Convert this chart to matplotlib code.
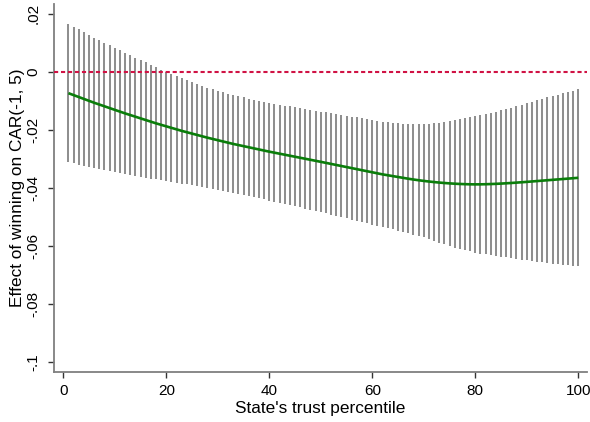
import matplotlib
matplotlib.use("Agg")
import matplotlib.pyplot as plt

plt.rcParams["font.family"] = ["Liberation Sans", "DejaVu Sans"]

# Trust percentile grid and estimated effect with 95% confidence limits
percentile = list(range(1, 101))

effect = [
    -0.00740, -0.00806, -0.00872, -0.00938, -0.01004, -0.01070, -0.01131, -0.01192, -0.01253, -0.01314,
    -0.01375, -0.01436, -0.01493, -0.01550, -0.01607, -0.01664, -0.01721, -0.01778, -0.01830, -0.01882,
    -0.01934, -0.01986, -0.02038, -0.02085, -0.02132, -0.02179, -0.02226, -0.02273, -0.02316, -0.02359,
    -0.02402, -0.02445, -0.02488, -0.02526, -0.02564, -0.02602, -0.02640, -0.02678, -0.02716, -0.02754,
    -0.02789, -0.02824, -0.02859, -0.02894, -0.02929, -0.02964, -0.02999, -0.03034, -0.03069, -0.03104,
    -0.03140, -0.03176, -0.03212, -0.03248, -0.03284, -0.03320, -0.03356, -0.03392, -0.03428, -0.03464,
    -0.03500, -0.03536, -0.03566, -0.03596, -0.03626, -0.03656, -0.03686, -0.03713, -0.03738, -0.03761,
    -0.03782, -0.03801, -0.03818, -0.03833, -0.03846, -0.03857, -0.03866, -0.03873, -0.03878, -0.03880,
    -0.03879, -0.03875, -0.03869, -0.03862, -0.03853, -0.03843, -0.03832, -0.03820, -0.03807, -0.03794,
    -0.03780, -0.03766, -0.03752, -0.03738, -0.03724, -0.03710, -0.03696, -0.03682, -0.03668, -0.03654,
]

ci_upper = [
    0.01640, 0.01547, 0.01454, 0.01361, 0.01268, 0.01175, 0.01082, 0.00995, 0.00908, 0.00821,
    0.00734, 0.00647, 0.00560, 0.00479, 0.00398, 0.00317, 0.00236, 0.00155, 0.00074, -0.00003,
    -0.00078, -0.00151, -0.00223, -0.00293, -0.00362, -0.00429, -0.00494, -0.00554, -0.00609, -0.00660,
    -0.00709, -0.00756, -0.00801, -0.00844, -0.00885, -0.00924, -0.00962, -0.00999, -0.01035, -0.01070,
    -0.01103, -0.01135, -0.01166, -0.01196, -0.01226, -0.01256, -0.01285, -0.01314, -0.01343, -0.01372,
    -0.01401, -0.01430, -0.01459, -0.01488, -0.01517, -0.01546, -0.01575, -0.01604, -0.01633, -0.01662,
    -0.01690, -0.01717, -0.01742, -0.01764, -0.01782, -0.01796, -0.01806, -0.01812, -0.01815, -0.01816,
    -0.01804, -0.01782, -0.01752, -0.01722, -0.01691, -0.01660, -0.01629, -0.01598, -0.01566, -0.01532,
    -0.01496, -0.01458, -0.01418, -0.01376, -0.01333, -0.01289, -0.01243, -0.01195, -0.01145, -0.01094,
    -0.01042, -0.00990, -0.00938, -0.00887, -0.00837, -0.00788, -0.00741, -0.00696, -0.00652, -0.00609,
]

ci_lower = [
    -0.03120, -0.03159, -0.03198, -0.03237, -0.03276, -0.03315, -0.03344, -0.03379, -0.03414, -0.03449,
    -0.03484, -0.03519, -0.03546, -0.03579, -0.03612, -0.03645, -0.03678, -0.03711, -0.03734, -0.03761,
    -0.03790, -0.03821, -0.03853, -0.03877, -0.03902, -0.03929, -0.03958, -0.03992, -0.04023, -0.04058,
    -0.04095, -0.04134, -0.04175, -0.04208, -0.04243, -0.04280, -0.04318, -0.04357, -0.04397, -0.04438,
    -0.04475, -0.04513, -0.04552, -0.04592, -0.04632, -0.04672, -0.04713, -0.04754, -0.04795, -0.04836,
    -0.04879, -0.04922, -0.04965, -0.05008, -0.05051, -0.05094, -0.05137, -0.05180, -0.05223, -0.05266,
    -0.05310, -0.05355, -0.05390, -0.05428, -0.05470, -0.05516, -0.05566, -0.05614, -0.05661, -0.05706,
    -0.05760, -0.05820, -0.05884, -0.05944, -0.06001, -0.06054, -0.06103, -0.06148, -0.06190, -0.06228,
    -0.06262, -0.06292, -0.06320, -0.06348, -0.06373, -0.06397, -0.06421, -0.06445, -0.06469, -0.06494,
    -0.06518, -0.06542, -0.06566, -0.06589, -0.06611, -0.06632, -0.06651, -0.06668, -0.06684, -0.06699,
]

x_ticks = [0, 20, 40, 60, 80, 100]
y_ticks = [0.02, 0.0, -0.02, -0.04, -0.06, -0.08, -0.10]
y_tick_labels = [".02", "0", "-.02", "-.04", "-.06", "-.08", "-.1"]

fig = plt.figure(figsize=(5.9, 4.22), dpi=100)
ax = fig.add_axes([0.091, 0.1192, 0.904, 0.8713])

# Confidence interval spikes
ax.vlines(percentile, ci_lower, ci_upper, color="#8f8f8f", linewidth=1.45, zorder=2)
# Point estimate
ax.plot(percentile, effect, color="#0a7d0a", linewidth=1.9, zorder=3,
        solid_capstyle="butt")
# Zero reference line
ax.axhline(0, color="#d01244", linewidth=1.5, linestyle=(0, (2.0, 1.35)), zorder=4)

ax.set_xlim(-1.86, 101.7)
ax.set_ylim(-0.1033, 0.0233)

ax.set_xticks(x_ticks)
ax.set_yticks(y_ticks)
ax.set_yticklabels(y_tick_labels, rotation=90, va="center")

for side in ("top", "right"):
    ax.spines[side].set_visible(False)
for side in ("left", "bottom"):
    ax.spines[side].set_color("#7f7f7f")
    ax.spines[side].set_linewidth(1.3)

ax.tick_params(axis="both", direction="out", length=4.5, width=1.0, color="#333333",
               labelsize=11, labelcolor="black")
ax.tick_params(axis="x", pad=4.5)
ax.tick_params(axis="y", pad=5)

ax.set_xlabel("State's trust percentile", fontsize=12.4, labelpad=2)
ax.set_ylabel("Effect of winning on CAR(-1, 5)", fontsize=12.4, labelpad=1)

fig.savefig("out.png", dpi=100, facecolor="white")
